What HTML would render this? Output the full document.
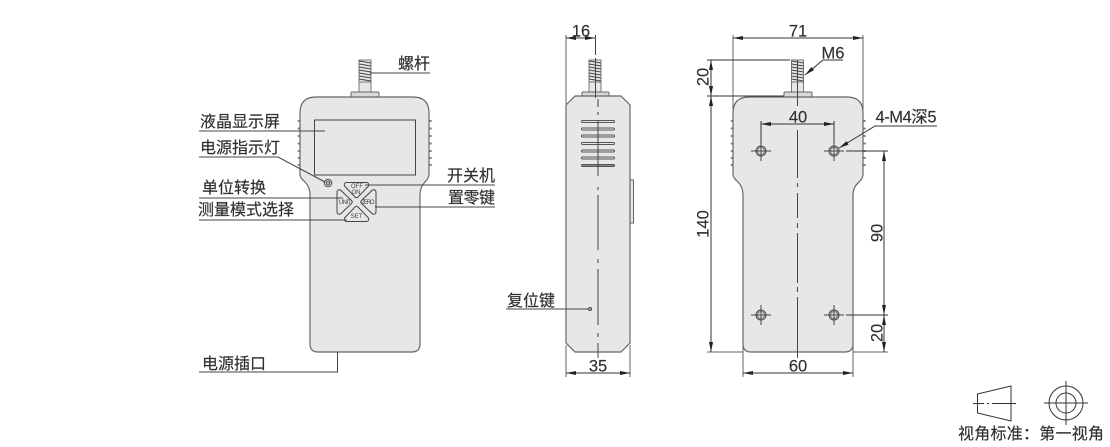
<!DOCTYPE html>
<html><head><meta charset="utf-8">
<style>
html,body{margin:0;padding:0;background:#fff;width:1110px;height:447px;overflow:hidden}
svg{display:block}
text{font-family:"Liberation Sans","Noto Sans CJK SC",sans-serif;fill:#2f2f2f;stroke:#2f2f2f;stroke-width:.15}
.l{font-size:16px}
.d{font-size:16.5px;text-anchor:middle}
.b{font-size:6px;text-anchor:middle;fill:#444;stroke:none}
.s{stroke:#444;stroke-width:1;fill:none}
.m{stroke:#333;stroke-width:1;fill:none}
.e{stroke:#666;stroke-width:1;fill:none}
.f{fill:#e6e7e8;stroke:#666;stroke-width:1.2}
.a{fill:#222;stroke:none}
</style></head><body>
<svg width="1110" height="447" viewBox="0 0 1110 447" xmlns="http://www.w3.org/2000/svg">
<defs>
<path id="arr" d="M0,0L10,-2V2Z"/>
<g id="scr">
<rect x="-6" y="60" width="12" height="32" fill="#e6e7e8" stroke="#777"/>
<path d="M-6,61L6,63M-6,64L6,66M-6,67L6,69M-6,70L6,72M-6,73L6,75M-6,76L6,78M-6,79L6,81" stroke="#444" stroke-width="1"/>
<path d="M-6,82H6" stroke="#777"/>
</g>
<path id="btn" d="M347,182.5H366Q369.5,182.5 368.5,186L358,197Q356.5,198.5 355,197L344.5,186Q343.5,182.5 347,182.5Z" fill="#e6e7e8" stroke="#444" stroke-width="1"/>
<g id="hole" fill="none" stroke="#444" stroke-width="1">
<circle r="5"/><circle r="3.5" stroke="#777"/>
<path d="M-10,0H10M0,-10V10"/>
</g>
<g id="tick"><path d="M0,0h2M0,7.5h2M0,15h2M0,22.5h2M0,30h2M0,37h2M0,44h2" stroke="#888" stroke-width="2" stroke-linecap="round"/></g>
</defs>

<!-- FRONT VIEW -->
<use href="#tick" x="298.5" y="121"/>
<use href="#tick" x="429" y="121"/>
<use href="#scr" x="365"/>
<path d="M351,97V93Q351,92 352,92H378Q379,92 379,93V97Z" fill="#d8d9da" stroke="#666"/>
<path class="f" d="M300,113Q300,97 316,97H413Q429,97 429,113V174Q429,178 425,182Q420,187 420,195V344Q420,352 412,352H318Q310,352 310,344V195Q310,187 305,182Q300,178 300,174Z"/>
<rect x="314.5" y="120" width="101" height="55" fill="#e6e7e8" stroke="#444" stroke-width="1"/>
<circle cx="328" cy="183" r="3.8" fill="#b5b6b7" stroke="#555"/>
<circle cx="328" cy="183" r="1.6" fill="none" stroke="#555" stroke-width=".7"/>
<use href="#btn"/>
<use href="#btn" transform="rotate(90 356.5 202)"/>
<use href="#btn" transform="rotate(180 356.5 202)"/>
<use href="#btn" transform="rotate(270 356.5 202)"/>
<text class="b" x="357" y="188">OFF</text>
<text class="b" x="356" y="194">ON</text>
<text class="b" x="345" y="204" textLength="12">UNIT</text>
<text class="b" x="368" y="204" textLength="13">ZERO</text>
<text class="b" x="356.5" y="218">SET</text>

<path class="s" d="M370,73H430M199,131H325M199,157H278L325,182M199,198H343M199,220H347M365,185H495M375,207H495M199,372H337.5V352"/>
<text class="l" x="398" y="69" textLength="32">螺杆</text>
<text class="l" x="200" y="127" textLength="80">液晶显示屏</text>
<text class="l" x="200" y="153" textLength="80">电源指示灯</text>
<text class="l" x="202" y="193" textLength="64">单位转换</text>
<text class="l" x="198" y="215" textLength="96">测量模式选择</text>
<text class="l" x="447" y="181" textLength="48">开关机</text>
<text class="l" x="448" y="203" textLength="47">置零键</text>
<text class="l" x="202" y="369" textLength="64">电源插口</text>

<!-- SIDE VIEW -->
<use href="#scr" x="595"/>
<path d="M582,96V93Q582,92 583,92H608Q609,92 609,93V96Z" fill="#d8d9da" stroke="#666"/>
<rect x="629.5" y="180" width="4" height="43" fill="#e6e7e8" stroke="#666"/>
<path class="f" d="M566,105L575,96H621L630,105V343L621,352H575L566,343Z"/>
<g fill="#e6e7e8" stroke="#555" stroke-width="1">
<rect x="581.5" y="120.5" width="33" height="2" rx="1"/>
<rect x="581.5" y="128" width="33" height="2" rx="1"/>
<rect x="581.5" y="135" width="33" height="2" rx="1"/>
<rect x="581.5" y="142.5" width="33" height="2" rx="1"/>
<rect x="581.5" y="150" width="33" height="2" rx="1"/>
<rect x="581.5" y="157" width="33" height="2" rx="1"/>
<rect x="581.5" y="164.5" width="33" height="2" rx="1" fill="#888"/>
</g>
<path class="s" d="M595.5,35V55M595.5,58V98"/>
<path class="s" d="M598,99V107M598,112V115M598,121V176M598,187V190M598,195V250M598,259V263M598,269V325M598,333V337M598,343V358"/>
<path class="e" d="M566,35V104M566,345V377M630,345V377"/>
<path class="m" d="M566,38H595M566,373H630"/>
<use href="#arr" class="a" transform="translate(566,38)"/>
<use href="#arr" class="a" transform="translate(595,38) rotate(180)"/>
<use href="#arr" class="a" transform="translate(566,373)"/>
<use href="#arr" class="a" transform="translate(630,373) rotate(180)"/>
<text class="d" x="581" y="36.5">16</text>
<text class="d" x="598" y="371.5">35</text>
<path class="s" d="M506,309H588"/>
<circle cx="590" cy="309" r="1.6" fill="#999" stroke="#444" stroke-width=".8"/>
<text class="l" x="507" y="306" textLength="48">复位键</text>

<!-- BACK VIEW -->
<use href="#tick" x="731.5" y="121"/>
<use href="#tick" x="863" y="121"/>
<use href="#scr" x="797.5"/>
<path d="M784,97V93Q784,92 785,92H811Q812,92 812,93V97Z" fill="#d8d9da" stroke="#666"/>
<path class="f" d="M733,113Q733,97 749,97H847Q863,97 863,113V174Q863,178 859,182Q853,187 853,195V344Q853,352 845,352H751Q743,352 743,344V195Q743,187 738,182Q733,178 733,174Z"/>
<use href="#hole" x="761" y="151"/>
<use href="#hole" x="834" y="151"/>
<use href="#hole" x="761" y="315"/>
<use href="#hole" x="834" y="315"/>
<path class="s" d="M797.5,60V106"/>
<path class="s" d="M797.5,130V178M797.5,183V187M797.5,193V218M797.5,223V228M797.5,233V283M797.5,287V292M797.5,297V358"/>
<path class="e" d="M733,35V110M863,35V110M707,352H743M853,352H888M743,345V377M853,345V377"/>
<path class="m" d="M707,60H790M707,96H784M761,121V143M834,121V143M846,151H888M846,315H888"/>
<path class="m" d="M733,38H863M711,60V352M761,124H834M884,151V352M743,373H853M843,60H823L805,75M937,126H875L839,148"/>
<use href="#arr" class="a" transform="translate(733,38)"/>
<use href="#arr" class="a" transform="translate(863,38) rotate(180)"/>
<use href="#arr" class="a" transform="translate(711,60) rotate(90)"/>
<use href="#arr" class="a" transform="translate(711,96) rotate(-90)"/>
<use href="#arr" class="a" transform="translate(711,96) rotate(90)"/>
<use href="#arr" class="a" transform="translate(711,352) rotate(-90)"/>
<use href="#arr" class="a" transform="translate(761,124)"/>
<use href="#arr" class="a" transform="translate(834,124) rotate(180)"/>
<use href="#arr" class="a" transform="translate(884,151) rotate(90)"/>
<use href="#arr" class="a" transform="translate(884,315) rotate(-90)"/>
<use href="#arr" class="a" transform="translate(884,315) rotate(90)"/>
<use href="#arr" class="a" transform="translate(884,352) rotate(-90)"/>
<use href="#arr" class="a" transform="translate(743,373)"/>
<use href="#arr" class="a" transform="translate(853,373) rotate(180)"/>
<use href="#arr" class="a" transform="translate(805,75) rotate(-40)"/>
<use href="#arr" class="a" transform="translate(839,148) rotate(-31)"/>
<text class="d" x="798" y="36.5">71</text>
<text class="d" x="833" y="58.5">M6</text>
<text class="d" x="798" y="122.5">40</text>
<text class="d" x="906" y="122.5" textLength="61">4-M4深5</text>
<text class="d" x="798" y="371.5">60</text>
<text class="d" transform="translate(708.5,77) rotate(-90)">20</text>
<text class="d" transform="translate(708.5,224) rotate(-90)">140</text>
<text class="d" transform="translate(882.5,233) rotate(-90)">90</text>
<text class="d" transform="translate(882.5,333) rotate(-90)">20</text>

<!-- PROJECTION SYMBOL -->
<path d="M977.5,394L1011,386V421L977.5,413Z" fill="none" stroke="#333" stroke-width="1"/>
<path d="M973,403.5H984M987,403.5H989M992,403.5H1016" stroke="#333" stroke-width=".9" fill="none"/>
<g fill="none" stroke="#333" stroke-width="1">
<circle cx="1066" cy="403" r="17"/>
<circle cx="1066" cy="403" r="10"/>
<path d="M1044,403H1088M1066,381V425"/>
</g>
<text class="l" x="958" y="439" textLength="146">视角标准：第一视角</text>
</svg>
</body></html>
